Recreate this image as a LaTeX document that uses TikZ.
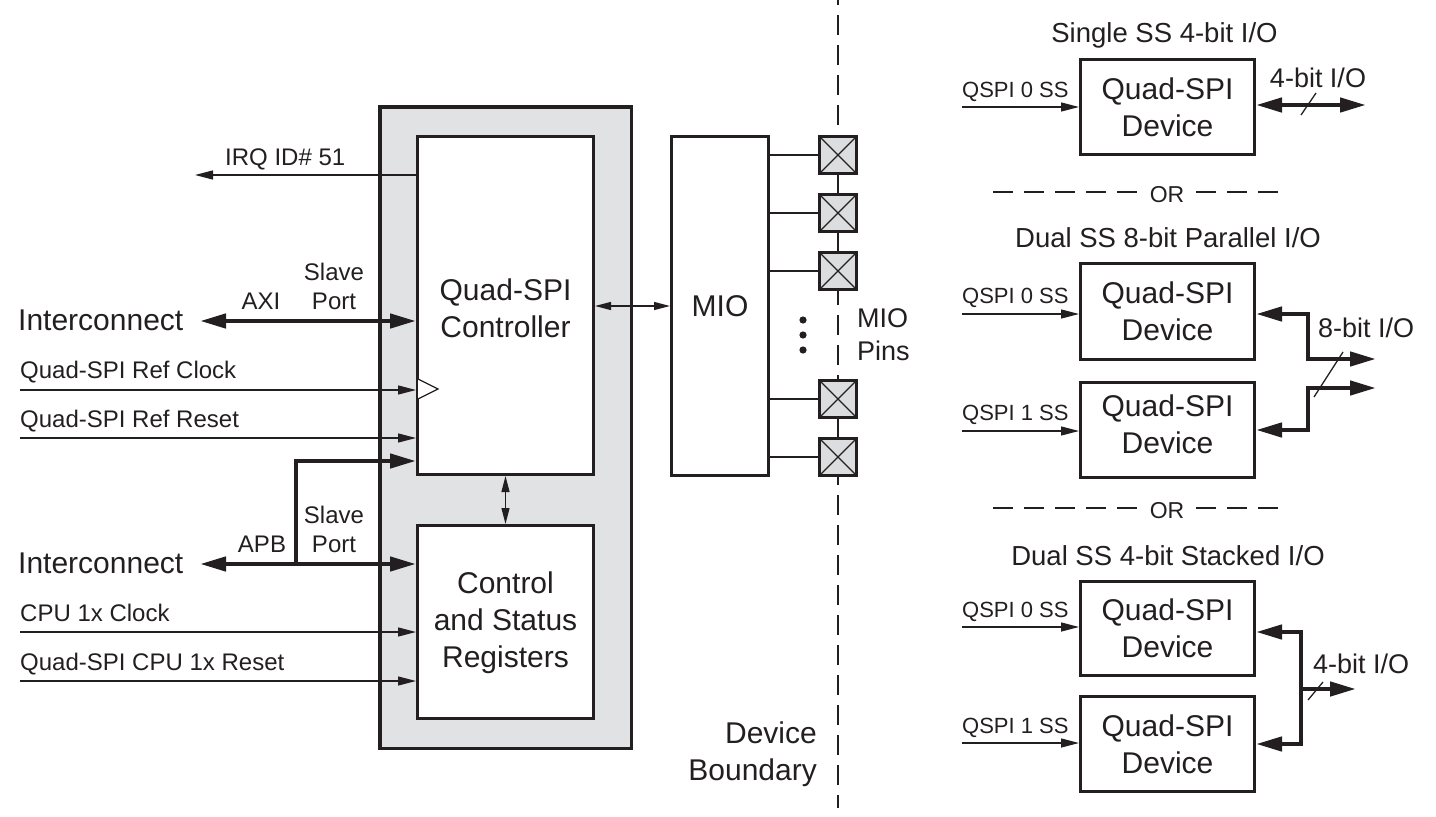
\documentclass[tikz,border=0pt]{standalone}
\usepackage{fontspec}
\setmainfont{Liberation Sans}
\usetikzlibrary{arrows.meta}
\definecolor{ink}{HTML}{231F20}
\definecolor{panel}{HTML}{E1E2E3}
\definecolor{pinfill}{HTML}{DCDDDE}
\begin{document}
\begin{tikzpicture}[x=1pt,y=-1pt,
  every node/.append style={text=ink},
  box/.style={draw=ink,line width=3pt,fill=white,inner sep=0pt,align=center,font=\fontsize{30}{37}\selectfont},
  boxtxt/.style={inner sep=0pt,align=center,font=\fontsize{30}{37}\selectfont},
  lbl/.style={inner sep=0pt,font=\fontsize{24}{28}\selectfont},
  sml/.style={inner sep=0pt,font=\fontsize{22}{26}\selectfont},
  ttl/.style={inner sep=0pt,font=\fontsize{27.5}{32}\selectfont},
  iolbl/.style={inner sep=0pt,font=\fontsize{27}{32}\selectfont},
  big/.style={inner sep=0pt,font=\fontsize{30}{37}\selectfont},
  wire/.style={draw=ink,line width=1.3pt},
  bus/.style={draw=ink,line width=4.5pt,line join=miter},
  wt/.style={-{Triangle[length=18pt,width=9pt]}},
  wtt/.style={{Triangle[length=16pt,width=8pt]}-{Triangle[length=16pt,width=8pt]}},
  bt/.style={-{Triangle[length=26pt,width=14pt]}},
  btt/.style={{Triangle[length=26pt,width=14pt]}-{Triangle[length=26pt,width=14pt]}},
  miopin/.style={draw=ink,line width=3.5pt,fill=pinfill,minimum size=37pt,inner sep=0pt,
    path picture={\draw[ink,line width=1.3pt]
      (path picture bounding box.north west) -- (path picture bounding box.south east)
      (path picture bounding box.north east) -- (path picture bounding box.south west);}},
  sep/.style={draw=ink,line width=1.5pt,dash pattern=on 20pt off 11pt}
]
\useasboundingbox (0,0) rectangle (1436,817);

% device boundary
\draw[ink,line width=1.6pt,dash pattern=on 20pt off 10pt] (838,-15) -- (838,808);

% SoC panel
\node[draw=ink,line width=3.5pt,fill=panel,minimum width=251.5pt,minimum height=641.5pt,inner sep=0pt] (soc) at (505.5,427.5) {};
\node[box,minimum width=176pt,minimum height=338pt] (ctrl) at (505.5,305.5) {};
\node[boxtxt] (ctrlT) at ([yshift=-2.5pt]ctrl.center) {Quad-SPI\\Controller};
\node[box,minimum width=176pt,minimum height=193pt] (stat) at (505.5,622) {};
\node[boxtxt] (statT) at ([yshift=-1pt]stat.center) {Control\\and Status\\Registers};
\node[box,minimum width=97pt,minimum height=339pt] (mio) at (720,306) {MIO};

% clock triangle
\draw[ink,line width=1.3pt,fill=white] (418,379) -- (438,389) -- (418,399);

% IRQ
\coordinate (irqE) at (195,175);
\draw[wire,wt] (ctrl.west |- irqE) -- (irqE);
\node[lbl,anchor=base west] (irqL) at (225,165) {IRQ ID\# 51};

% AXI
\node[big,anchor=base west] (ic1) at (18,330) {Interconnect};
\coordinate (axiW) at (200,321);
\draw[bus,btt] (axiW) -- (ctrl.west |- axiW);
\node[lbl,anchor=base] (axiL) at (261,309) {AXI};
\node[lbl,anchor=base] (sp1a) at (334,280) {Slave};
\node[lbl,anchor=base] (sp1b) at (334,309) {Port};

% ref clock / reset
\node[lbl,anchor=base west] (rclk) at (20,378) {Quad-SPI Ref Clock};
\draw[wire,wt] (rclk.west |- 0,390) -- (ctrl.west |- 0,390);
\node[lbl,anchor=base west] (rrst) at (20,427) {Quad-SPI Ref Reset};
\draw[wire,wt] (rrst.west |- 0,438) -- (ctrl.west |- 0,438);

% APB
\node[big,anchor=base west] (ic2) at (18,573) {Interconnect};
\coordinate (apbW) at (200,564);
\coordinate (apbJ) at (296,566);
\coordinate (apbT) at (296,461);
\draw[bus,btt] (apbW) -- (stat.west |- apbW);
\draw[bus,bt] (apbJ) -- (apbT) -- (ctrl.west |- apbT);
\node[lbl,anchor=base] (apbL) at (262,552) {APB};
\node[lbl,anchor=base] (sp2a) at (334,523) {Slave};
\node[lbl,anchor=base] (sp2b) at (334,552) {Port};

% CPU clock / reset
\node[lbl,anchor=base west] (cclk) at (20,621) {CPU 1x Clock};
\draw[wire,wt] (cclk.west |- 0,632) -- (stat.west |- 0,632);
\node[lbl,anchor=base west] (crst) at (20,670) {Quad-SPI CPU 1x Reset};
\draw[wire,wt] (crst.west |- 0,681) -- (stat.west |- 0,681);

% internal links
\draw[wire,wtt] (ctrl.south) -- (stat.north);
\draw[wire,wtt] (ctrl.east |- mio.west) -- (mio.west);

% MIO pins
\node[miopin] (p1) at (838,155) {};
\node[miopin] (p2) at (838,213) {};
\node[miopin] (p3) at (838,271) {};
\node[miopin] (p4) at (838,399) {};
\node[miopin] (p5) at (838,457) {};
\draw[ink,line width=1.6pt] (p1.south) -- (p2.north) (p2.south) -- (p3.north) (p4.south) -- (p5.north);
\foreach \p in {p1,p2,p3,p4,p5} \draw[wire] (mio.east |- \p) -- (\p.west);
\foreach \yy in {320,335,350} \fill[ink] (803,\yy) circle (3.6pt);
\node[iolbl,anchor=base west] (mpA) at (857,327) {MIO};
\node[iolbl,anchor=base west] (mpB) at (857,360) {Pins};
\node[big,anchor=base east] (dbA) at (817,743) {Device};
\node[big,anchor=base east] (dbB) at (817,780) {Boundary};

% ---------- right side ----------
% single SS
\node[ttl,anchor=base] (t1) at (1164.5,42) {Single SS 4-bit I/O};
\node[box,minimum width=174pt,minimum height=95pt] (dev1) at (1167.5,107) {Quad-SPI\\Device};
\node[sml,anchor=base west] (q1) at (962,97) {QSPI 0 SS};
\draw[wire,wt] (q1.west |- 0,107) -- (dev1.west |- 0,107);
\coordinate (io1) at (1366,105);
\draw[bus,btt] (dev1.east |- io1) -- (io1);
\draw[wire] (1301,115) -- (1316,93);
\node[iolbl,anchor=base] (io1L) at (1318,87) {4-bit I/O};

% OR 1
\node[inner sep=0pt,font=\fontsize{23}{28}\selectfont] (or1) at (1167,195) {OR};
\draw[sep] (993,192) -- (1137,192);
\draw[sep] (1196,192) -- (1278,192);

% dual SS parallel
\node[ttl,anchor=base] (t2) at (1168,247) {Dual SS 8-bit Parallel I/O};
\node[box,minimum width=174pt,minimum height=96pt] (dev2) at (1167.5,311.5) {Quad-SPI\\Device};
\node[box,minimum width=174pt,minimum height=95pt] (dev3) at (1167.5,430) {};
\node[boxtxt] (dev3T) at ([yshift=6pt]dev3.center) {Quad-SPI\\Device};
\node[sml,anchor=base west] (q2) at (962,303) {QSPI 0 SS};
\draw[wire,wt] (q2.west |- 0,314) -- (dev2.west |- 0,314);
\node[sml,anchor=base west] (q3) at (962,420) {QSPI 1 SS};
\draw[wire,wt] (q3.west |- 0,431) -- (dev3.west |- 0,431);
\coordinate (b8a) at (1308,314);
\coordinate (b8b) at (1308,359);
\coordinate (b8o1) at (1376,359);
\coordinate (b8c) at (1308,430);
\coordinate (b8d) at (1308,388);
\coordinate (b8o2) at (1376,388);
\draw[bus,btt] (dev2.east |- b8a) -- (b8a) -- (b8b) -- (b8o1);
\draw[bus,btt] (dev3.east |- b8c) -- (b8c) -- (b8d) -- (b8o2);
\draw[wire] (1314,397) -- (1343,352);
\node[iolbl,anchor=base west] (io2L) at (1318,337) {8-bit I/O};

% OR 2
\node[inner sep=0pt,font=\fontsize{23}{28}\selectfont] (or2) at (1167,511) {OR};
\draw[sep] (993,508) -- (1137,508);
\draw[sep] (1196,508) -- (1278,508);

% dual SS stacked
\node[ttl,anchor=base] (t3) at (1168,565) {Dual SS 4-bit Stacked I/O};
\node[box,minimum width=174pt,minimum height=94pt] (dev4) at (1167.5,628.5) {Quad-SPI\\Device};
\node[box,minimum width=174pt,minimum height=95pt] (dev5) at (1167.5,744) {Quad-SPI\\Device};
\node[sml,anchor=base west] (q4) at (962,617) {QSPI 0 SS};
\draw[wire,wt] (q4.west |- 0,627) -- (dev4.west |- 0,627);
\node[sml,anchor=base west] (q5) at (962,733) {QSPI 1 SS};
\draw[wire,wt] (q5.west |- 0,743) -- (dev5.west |- 0,743);
\coordinate (b4a) at (1301,632);
\coordinate (b4b) at (1301,744);
\coordinate (b4m) at (1301,689);
\coordinate (b4o) at (1356,689);
\draw[bus,btt] (dev4.east |- b4a) -- (b4a) -- (b4b) -- (dev5.east |- b4b);
\draw[bus,bt] (b4m) -- (b4o);
\draw[wire] (1308,700) -- (1323,682);
\node[iolbl,anchor=base west] (io3L) at (1313,673) {4-bit I/O};
\end{tikzpicture}
\end{document}
